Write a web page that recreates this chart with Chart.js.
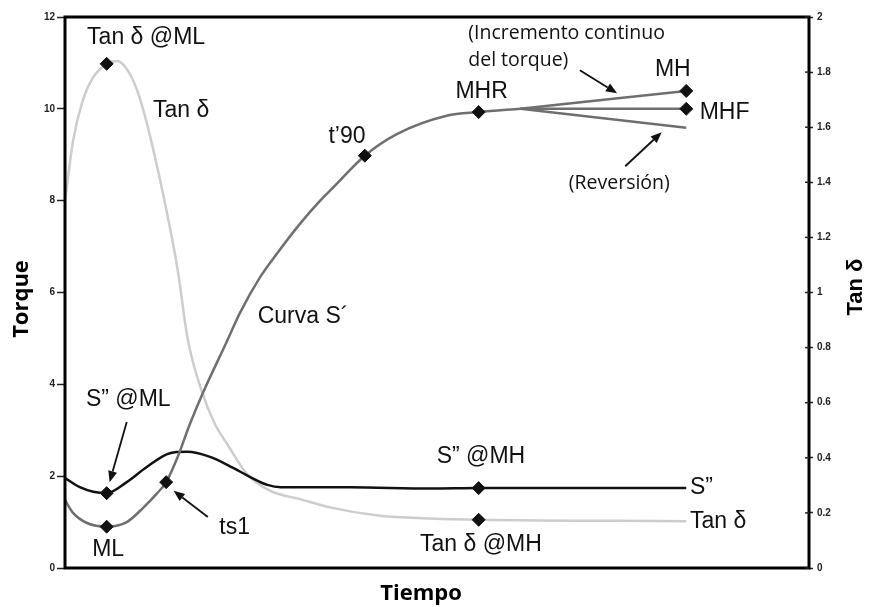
<!DOCTYPE html>
<html>
<head>
<meta charset="utf-8">
<script src="https://cdn.jsdelivr.net/npm/chart.js@4.4.1/dist/chart.umd.min.js"></script>
<style>
  html, body { margin: 0; padding: 0; background: #fff; }
  canvas { display: block; }
</style>
</head>
<body>
<canvas id="curaChart" width="871" height="607"></canvas>
<script>
// Curva reométrica: tiempo en unidades arbitrarias (0-100)

// S' (torque elástico, eje izquierdo)
const sPrimeTime   = [0, 1.08, 2.96, 5.6, 8.3, 10.5, 12.4, 13.6, 15.1, 16.8, 18.5, 21.8, 23.5, 26.2, 28.5, 31.6, 34.3, 36.0, 40.3, 44.6, 51.3, 55.6, 61.2];
const sPrimeTorque = [1.48, 1.2, 0.98, 0.9, 1.0, 1.31, 1.63, 1.87, 2.4, 3.14, 3.8, 4.95, 5.55, 6.33, 6.85, 7.5, 8.0, 8.28, 8.98, 9.45, 9.85, 9.93, 10.0];

// ramas finales de S'
const branchTime    = [61.2, 83.5];
const mhTorque      = [10.0, 10.39];  // incremento continuo
const mhfTorque     = [10.0, 10.0];   // meseta
const reversionTorq = [10.0, 9.59];   // reversión

// S'' (torque viscoso, eje izquierdo)
const sDoubleTime   = [0, 2.0, 3.8, 5.6, 8.3, 11.0, 14.1, 16.4, 19.5, 22.6, 24.9, 27.2, 29.0, 38.3, 49.1, 55.6, 83.5];
const sDoubleTorque = [1.96, 1.76, 1.66, 1.63, 1.87, 2.2, 2.5, 2.53, 2.42, 2.18, 1.98, 1.81, 1.76, 1.76, 1.73, 1.74, 1.74];

// Tan δ (eje derecho)
const tanTime  = [0, 1.08, 2.42, 3.76, 5.65, 6.99, 8.33, 9.68, 11.0, 12.4, 13.7, 15.1, 16.5, 18.4, 20.2, 21.8, 24.5, 27.6, 31.6, 35.6, 42.3, 49.1, 55.6, 83.5];
const tanDelta = [1.33, 1.55, 1.70, 1.78, 1.83, 1.84, 1.81, 1.735, 1.615, 1.455, 1.29, 1.09, 0.83, 0.64, 0.52, 0.45, 0.34, 0.28, 0.25, 0.22, 0.19, 0.18, 0.175, 0.17];

// puntos característicos (rombos): ML, S''@ML, ts1, t'90, MHR, MH, MHF, S''@MH
const markerTime  = [5.6, 5.6, 13.6, 40.3, 55.6, 83.5, 83.5, 55.6];
const markerValue = [0.9, 1.63, 1.87, 8.98, 9.93, 10.39, 10.0, 1.74];
// Tan δ @ML, Tan δ @MH
const tanMarkerTime  = [5.6, 55.6];
const tanMarkerValue = [1.83, 0.175];

// ticks
const torqueTicks = [0, 2, 4, 6, 8, 10, 12];
const tanTicks    = [0, 0.2, 0.4, 0.6, 0.8, 1, 1.2, 1.4, 1.6, 1.8, 2];

const zip = (xs, ys) => xs.map((x, i) => ({ x: x, y: ys[i] }));

const ARIAL = '23px "Liberation Sans", Arial, sans-serif';
const NOTE  = '19.5px "Open Sans", sans-serif';

// textos sobre la gráfica, en coordenadas de datos
const notes = [
    { text: 'Tan δ @ML',  t: 10.9, v: 11.56, font: ARIAL },
    { text: 'Tan δ',      t: 15.6, v: 9.97,  font: ARIAL },
    { text: 'Curva S\u00B4', t: 32.0, v: 5.47, font: ARIAL },
    { text: 't\u201990',  t: 37.9, v: 9.39,  font: ARIAL },
    { text: 'MHR',        t: 56.0, v: 10.37, font: ARIAL },
    { text: 'MH',         t: 81.7, v: 10.85, font: ARIAL },
    { text: 'MHF',        t: 85.3, v: 9.91,  font: ARIAL, align: 'left' },
    { text: '(Incremento continuo', t: 54.2, v: 11.65, font: NOTE, align: 'left' },
    { text: 'del torque)', t: 54.2, v: 11.06, font: NOTE, align: 'left' },
    { text: '(Reversión)', t: 74.5, v: 8.38, font: NOTE },
    { text: 'S\u201D @ML', t: 8.5,  v: 3.66, font: ARIAL },
    { text: 'ML',         t: 5.8,  v: 0.39,  font: ARIAL },
    { text: 'ts1',        t: 22.8, v: 0.87,  font: ARIAL },
    { text: 'S\u201D @MH', t: 55.9, v: 2.42, font: ARIAL },
    { text: 'Tan δ @MH',  t: 55.9, v: 0.50,  font: ARIAL },
    { text: 'S\u201D',    t: 84.0, v: 1.74,  font: ARIAL, align: 'left' },
    { text: 'Tan δ',      t: 84.0, v: 1.0,   font: ARIAL, align: 'left' }
];

// flechas: desde (t0,v0) hasta la punta (t1,v1)
const arrows = [
    { t0: 69.2, v0: 10.84, t1: 74.2, v1: 10.34 },
    { t0: 75.3, v0: 8.75,  t1: 80.2, v1: 9.49 },
    { t0: 8.3,  v0: 3.18,  t1: 6.0,  v1: 1.87 },
    { t0: 19.2, v0: 1.11,  t1: 14.6, v1: 1.68 }
];

const decorations = {
    id: 'decorations',
    afterDraw(chart) {
        const { ctx, chartArea: a, scales } = chart;
        const X = t => scales.x.getPixelForValue(t);
        const Y = v => scales.y.getPixelForValue(v);
        ctx.save();

        // marco
        ctx.strokeStyle = '#000';
        ctx.lineWidth = 3;
        ctx.strokeRect(a.left, a.top, a.right - a.left, a.bottom - a.top);

        // marcas del eje derecho, cruzando la línea
        ctx.lineWidth = 1.5;
        ctx.strokeStyle = '#222';
        tanTicks.forEach(v => {
            const y = scales.y1.getPixelForValue(v);
            ctx.beginPath();
            ctx.moveTo(a.right - 4, y);
            ctx.lineTo(a.right, y);
            ctx.stroke();
        });

        // textos
        ctx.fillStyle = '#111';
        ctx.textBaseline = 'middle';
        notes.forEach(n => {
            ctx.font = n.font;
            ctx.textAlign = n.align || 'center';
            ctx.fillText(n.text, X(n.t), Y(n.v));
        });

        // flechas
        ctx.strokeStyle = '#111';
        ctx.fillStyle = '#111';
        ctx.lineWidth = 1.8;
        arrows.forEach(ar => {
            const x0 = X(ar.t0), y0 = Y(ar.v0), x1 = X(ar.t1), y1 = Y(ar.v1);
            const ang = Math.atan2(y1 - y0, x1 - x0);
            const len = 11, half = 4.5;
            const bx = x1 - len * Math.cos(ang), by = y1 - len * Math.sin(ang);
            ctx.beginPath();
            ctx.moveTo(x0, y0);
            ctx.lineTo(bx, by);
            ctx.stroke();
            ctx.beginPath();
            ctx.moveTo(x1, y1);
            ctx.lineTo(bx + half * Math.sin(ang), by - half * Math.cos(ang));
            ctx.lineTo(bx - half * Math.sin(ang), by + half * Math.cos(ang));
            ctx.closePath();
            ctx.fill();
        });

        // títulos de ejes
        ctx.fillStyle = '#000';
        ctx.font = 'bold 22px "Open Sans", sans-serif';
        ctx.textAlign = 'center';
        ctx.fillText('Tiempo', 421, 594);

        ctx.save();
        ctx.translate(22, 299);
        ctx.rotate(-Math.PI / 2);
        ctx.fillText('Torque', 0, 0);
        ctx.restore();

        ctx.save();
        ctx.translate(856, 287);
        ctx.rotate(-Math.PI / 2);
        ctx.font = 'bold 22px "Liberation Sans", Arial, sans-serif';
        ctx.fillText('Tan δ', 0, 0);
        ctx.restore();

        ctx.restore();
    }
};

const lineStyle = {
    type: 'line',
    pointRadius: 0,
    borderWidth: 2.5,
    fill: false,
    cubicInterpolationMode: 'monotone'
};

const tickFont = { family: '"Liberation Sans", Arial, sans-serif', size: 10, weight: 'bold' };

new Chart(document.getElementById('curaChart'), {
    type: 'line',
    data: {
        datasets: [
            {
                type: 'scatter', label: 'puntos', data: zip(markerTime, markerValue), yAxisID: 'y',
                pointStyle: 'rectRot', pointRadius: 6.5, backgroundColor: '#111', borderColor: '#111', order: 0
            },
            {
                type: 'scatter', label: 'puntos tan', data: zip(tanMarkerTime, tanMarkerValue), yAxisID: 'y1',
                pointStyle: 'rectRot', pointRadius: 6.5, backgroundColor: '#111', borderColor: '#111', order: 0
            },
            { ...lineStyle, label: "S'", data: zip(sPrimeTime, sPrimeTorque), yAxisID: 'y', borderColor: '#6f6f6f', order: 1 },
            { ...lineStyle, label: 'MH', data: zip(branchTime, mhTorque), yAxisID: 'y', borderColor: '#6f6f6f', order: 1 },
            { ...lineStyle, label: 'MHF', data: zip(branchTime, mhfTorque), yAxisID: 'y', borderColor: '#6f6f6f', order: 1 },
            { ...lineStyle, label: 'Reversión', data: zip(branchTime, reversionTorq), yAxisID: 'y', borderColor: '#6f6f6f', order: 1 },
            { ...lineStyle, label: "S''", data: zip(sDoubleTime, sDoubleTorque), yAxisID: 'y', borderColor: '#111', order: 2 },
            { ...lineStyle, label: 'Tan δ', data: zip(tanTime, tanDelta), yAxisID: 'y1', borderColor: '#cdcdcd', order: 3 }
        ]
    },
    options: {
        responsive: false,
        animation: false,
        layout: { padding: { top: 17, left: 0, right: 0, bottom: 0 } },
        plugins: {
            legend: { display: false },
            tooltip: { enabled: false }
        },
        scales: {
            x: {
                type: 'linear', min: 0, max: 100,
                ticks: { display: false },
                grid: { display: false },
                border: { display: false },
                afterFit: s => { s.height = 39; }
            },
            y: {
                position: 'left', min: 0, max: 12,
                afterBuildTicks: s => { s.ticks = torqueTicks.map(v => ({ value: v })); },
                ticks: { font: tickFont, color: '#222', padding: 2 },
                grid: { drawOnChartArea: false, tickLength: 8, tickColor: '#222', tickWidth: 1.5 },
                border: { display: false },
                afterFit: s => { s.width = 65; }
            },
            y1: {
                position: 'right', min: 0, max: 2,
                afterBuildTicks: s => { s.ticks = tanTicks.map(v => ({ value: v })); },
                ticks: {
                    font: tickFont, color: '#222', padding: 4,
                    callback: v => String(Math.round(v * 10) / 10)
                },
                grid: { drawOnChartArea: false, tickLength: 4, tickColor: '#222', tickWidth: 1.5 },
                border: { display: false },
                afterFit: s => { s.width = 62; }
            }
        }
    },
    plugins: [decorations]
});
</script>
</body>
</html>
